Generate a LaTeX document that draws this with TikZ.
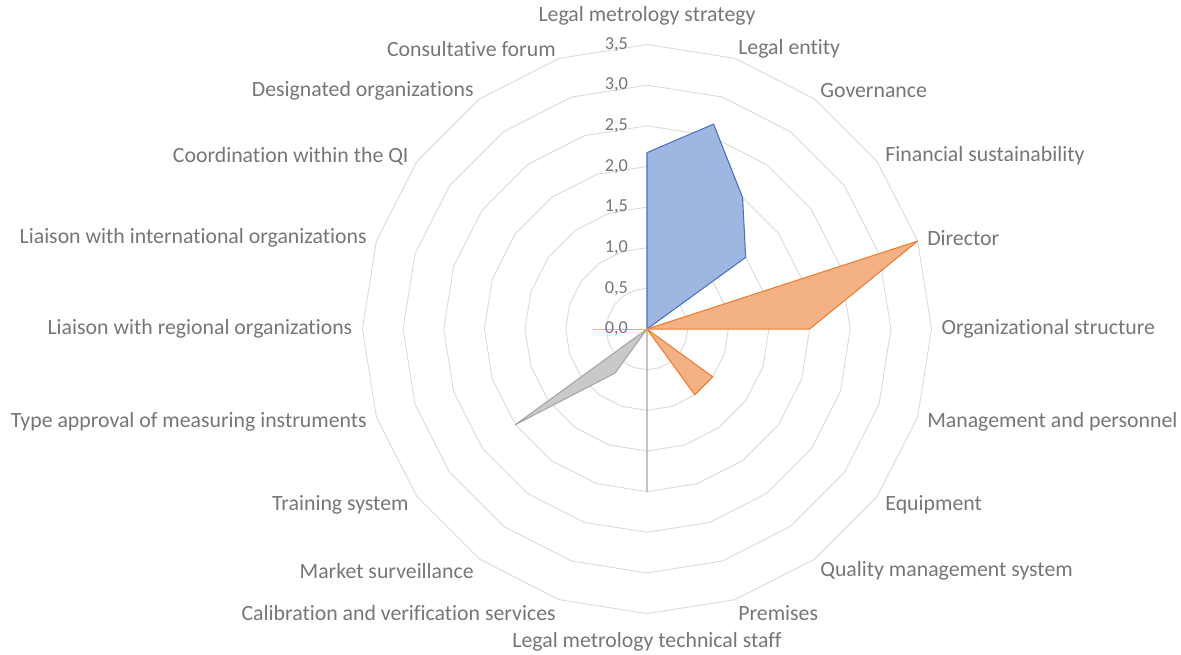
\documentclass[tikz,border=0pt]{standalone}
\usepackage{fontspec}
\setmainfont{Carlito}[Ligatures=NoCommon]

\definecolor{gridgray}{RGB}{217,217,217}
\definecolor{textgray}{RGB}{118,118,118}
\definecolor{serA}{HTML}{4472C4}
\definecolor{serB}{HTML}{ED7D31}
\definecolor{serC}{HTML}{A5A5A5}
\definecolor{serD}{HTML}{FFC000}

\tikzset{
  ring/.style={draw=gridgray, line width=0.5pt},
  category/.style={text=textgray, inner sep=0pt, font=\fontsize{12.4}{14}\selectfont},
  ticklabel/.style={text=textgray, inner sep=0pt, anchor=east, font=\fontsize{10.4}{12}\selectfont},
  series/.style={line width=0.6pt, line join=round},
}

\begin{document}
\begin{tikzpicture}[x=1.626cm,y=1.626cm]
    \useasboundingbox (-7.958,-3.998) rectangle (6.568,4.047);

    % Rings of the grid
    \foreach \r in {0.5,1,1.5,2,2.5,3,3.5} {
        \draw[ring] (90:\r) \foreach \a in {1,...,19} { -- (90-18*\a:\r) } -- cycle;
    }

    % Series
    \draw[series, draw=serA, fill=serA!52] (0,0) -- (90:2.17) -- (72:2.65) -- (54:2) -- (36:1.5) -- cycle;
    \draw[series, draw=serB, fill=serB!60] (0,0) -- (18:3.5) -- (0:2) -- cycle;
    \draw[series, draw=serB, fill=serB!60] (0,0) -- (-36:1) -- (-54:1) -- cycle;
    \draw[series, draw=serC, fill=serC!60] (0,0) -- (-90:2) -- (0,0) -- (-126:0.67) -- (-144:2) -- cycle;
    \draw[series, draw=serD] (0,0) -- (180:0.67);

    % Value labels
    \foreach \v/\t [count=\k] in {0/{0,0},0.5/{0,5},1/{1,0},1.5/{1,5},2/{2,0},2.5/{2,5},3/{3,0},3.5/{3,5}} {
        \node[ticklabel] (tick\k) at (-0.23,\v) {\t};
    }

    % Category labels
    \foreach \lab/\anc [count=\i from 0] in {
        Legal metrology strategy/south, Legal entity/west, Governance/west,
        Financial sustainability/west, Director/west, Organizational structure/west,
        Management and personnel/west, Equipment/west, Quality management system/west,
        Premises/west, Legal metrology technical staff/north,
        Calibration and verification services/east, Market surveillance/east,
        Training system/east, Type approval of measuring instruments/east,
        Liaison with regional organizations/east, Liaison with international organizations/east,
        Coordination within the QI/east, Designated organizations/east, Consultative forum/east} {
        \pgfmathsetmacro\rr{(\i==0 || \i==10) ? 3.73 : 3.62}
        \pgfmathsetmacro\dy{(\i==10) ? 0 : min(0,sin(90-18*\i))*2.5}
        \node[category, anchor=\anc, yshift=\dy pt] (cat\i) at (90-18*\i:\rr) {\lab};
    }
\end{tikzpicture}
\end{document}
